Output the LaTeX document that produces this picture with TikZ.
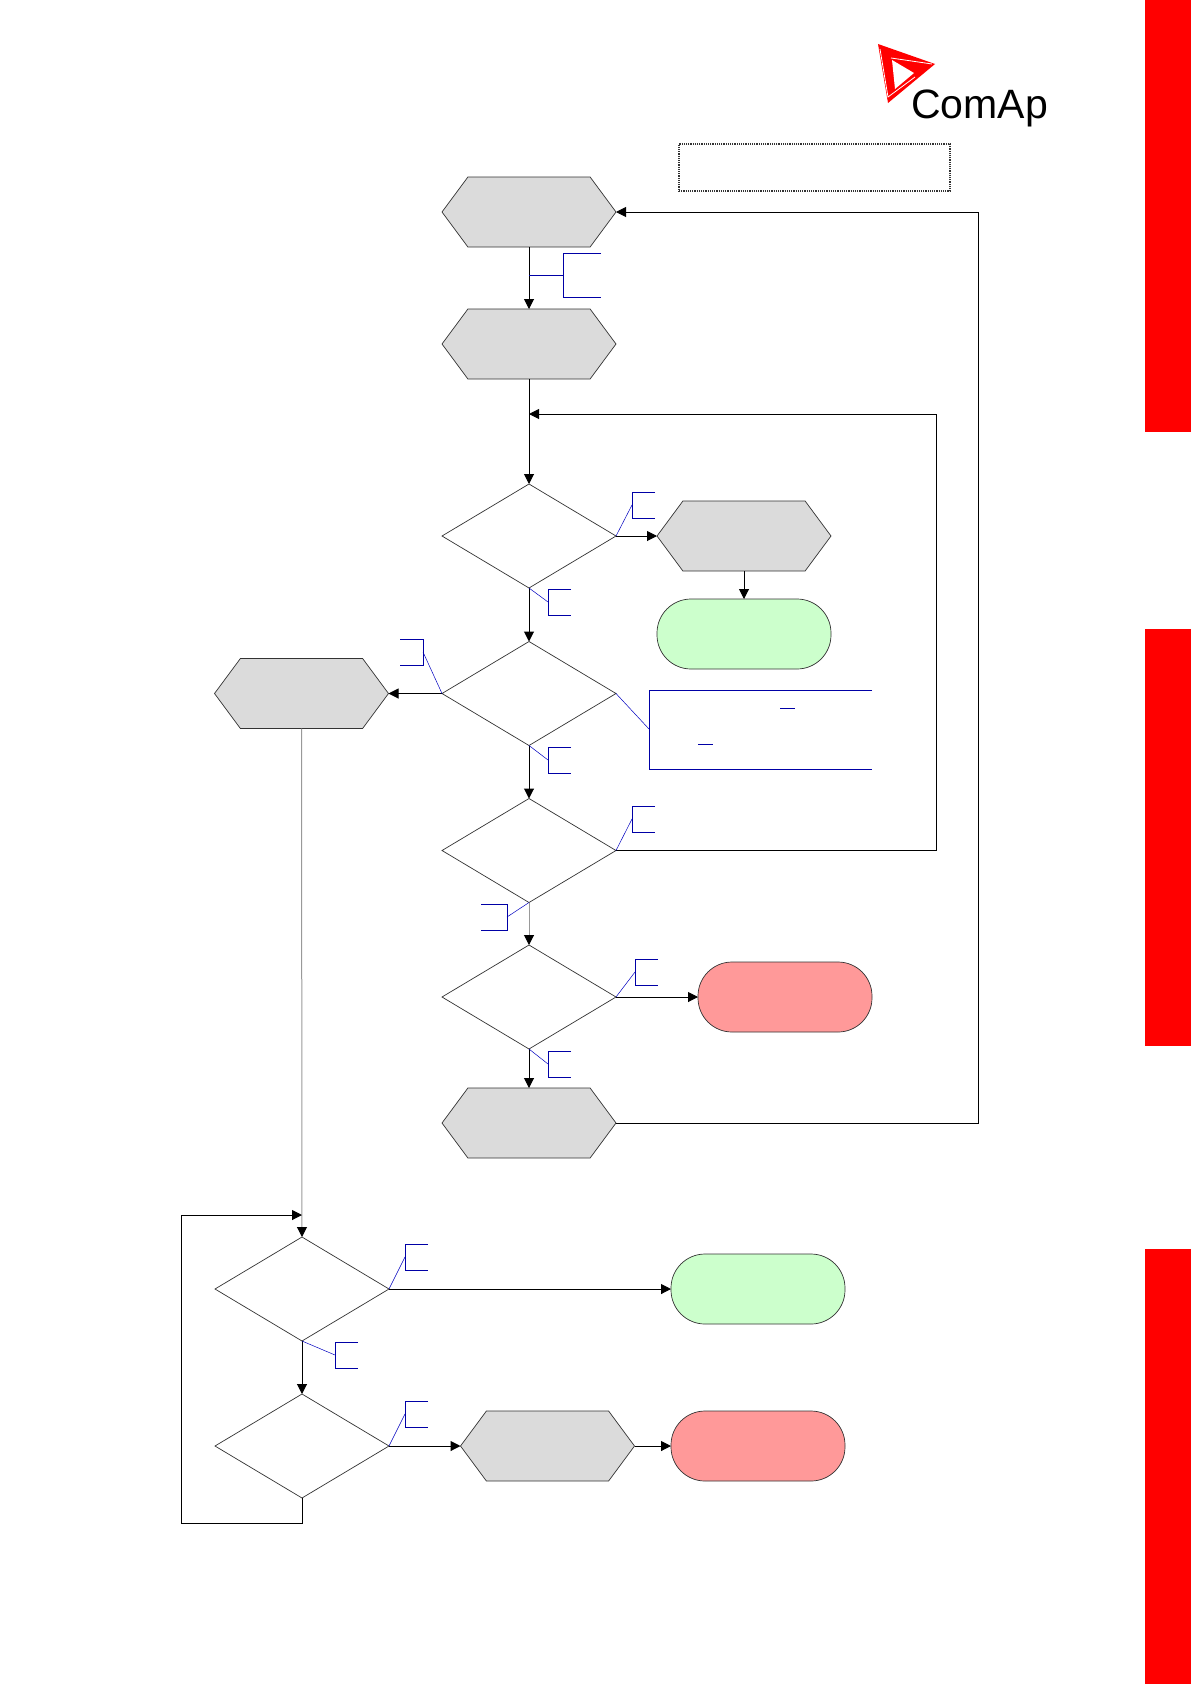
\documentclass[tikz,border=0pt]{standalone}
\usepackage{fontspec}
\newfontfamily\logofont{Liberation Sans}
\usetikzlibrary{arrows.meta,shapes.geometric,shapes.symbols}

\begin{document}
\begin{tikzpicture}[>={Triangle[length=10pt,width=10pt,color=black]},x=1pt,y=-1pt]
  \tikzset{
    flow/.style={->,line width=1pt,black},
    plain/.style={line width=1pt,black},
    fadedflow/.style={->,line width=1pt,gray!80},
    hexbox/.style={draw=black!80,fill=black!14,line width=.7pt,shape=signal,
      signal to=east and west,signal pointer angle=107,inner sep=0pt,outer sep=0pt,
      minimum width=174pt,minimum height=70pt},
    decision/.style={draw=black!80,fill=white,line width=.7pt,shape=diamond,aspect=1.67,
      inner sep=0pt,outer sep=0pt,minimum width=174pt,minimum height=104pt},
    terminal/.style={draw=black!80,line width=.7pt,rectangle,rounded corners=34pt,
      inner sep=0pt,outer sep=0pt,minimum width=174pt,minimum height=70pt},
    okbox/.style={terminal,fill=green!20},
    failbox/.style={terminal,fill=red!40},
    leader/.style={blue!75!black,line width=.5pt},
    bracket/.style={blue!65!black,line width=.8pt}
  }
  \useasboundingbox (0,0) rectangle (1191,1684);

  % side tabs
  \fill[red] (1145,0) rectangle (1191,432);
  \fill[red] (1145,629) rectangle (1191,1046);
  \fill[red] (1145,1249) rectangle (1191,1684);

  % logo
  \fill[red] (878,44) -- (935,64) -- (888,103) -- cycle;
  \fill[white] (892,60) -- (914,73) -- (895,89) -- cycle;
  \draw[white,line width=.8pt] (880,49) -- (888,97) -- (915,77);
  \draw[white,line width=.8pt] (891,58) -- (932,64);
  \node[font=\logofont\fontsize{41}{41}\selectfont,inner sep=0pt,anchor=base west] (logoText) at (911,118) {ComAp};

  \node[draw=black!80,densely dotted,line width=1.2pt,minimum width=271pt,minimum height=47pt] (noteBox) at (814.5,167.5) {};

  % main column
  \node[hexbox] (hexStart) at (529,212) {};
  \node[hexbox] (hexReady) at (529,344) {};
  \node[decision] (decFirst) at (529,536) {};
  \node[decision] (decSecond) at (529,693.5) {};
  \node[decision] (decThird) at (529,850.5) {};
  \node[decision] (decFourth) at (529,997) {};
  \node[hexbox] (hexReturn) at (529,1123) {};

  % right of the column
  \node[hexbox] (hexClose) at (744,536) {};
  \node[okbox] (okTop) at (744,634) {};
  \node[failbox] (failTop) at (785,997) {};

  % lower part
  \node[hexbox] (hexBranch) at (301.5,693.5) {};
  \node[decision] (decLower) at (302,1289) {};
  \node[decision] (decLast) at (302,1446) {};
  \node[okbox] (okLow) at (758,1289) {};
  \node[hexbox] (hexOpen) at (547.5,1446) {};
  \node[failbox] (failLow) at (758,1446) {};

  \coordinate (mergeTop) at (529,414);
  \coordinate (tapStart) at (529,275);
  \coordinate (mergeLow) at (302,1215);

  \draw[flow] (hexStart.south) -- (hexReady.north);
  \draw[flow] (hexReady.south) -- (decFirst.north);
  \draw[flow] (decFirst.south) -- (decSecond.north);
  \draw[flow] (decSecond.south) -- (decThird.north);
  \draw[fadedflow] (decThird.south) -- (decFourth.north);
  \draw[flow] (decFourth.south) -- (hexReturn.north);
  \draw[flow] (decFirst.east) -- (hexClose.west);
  \draw[flow] (hexClose.south) -- (okTop.north);
  \draw[flow] (decFourth.east) -- (failTop.west);
  \draw[flow] (decSecond.west) -- (hexBranch.east);
  \draw[fadedflow] (hexBranch.south) -- (decLower.north);
  \draw[flow] (decLower.south) -- (decLast.north);
  \draw[flow] (decLower.east) -- (okLow.west);
  \draw[flow] (decLast.east) -- (hexOpen.west);
  \draw[flow] (hexOpen.east) -- (failLow.west);

  % loops
  \draw[flow] (decThird.east) -| (936,414) -- (mergeTop);
  \draw[flow] (hexReturn.east) -| (978.5,212) -- (hexStart.east);
  \draw[flow] (decLast.south) |- (181.5,1523) -- (181.5,1215) -- (mergeLow);

  % blue marks
  \draw[bracket] (tapStart) -- (563,275);
  \draw[bracket] (601,253) -- (563,253) -- (563,297) -- (601,297);
  \foreach \from/\bx/\by/\ex in {decFirst.east/632/505/655,decFirst.south/548/602/571,
    decSecond.west/423/652/400,decSecond.south/548/760/571,decThird.east/632/819/655,
    decThird.south/507/917/481,decFourth.east/635/972/658,decFourth.south/548/1064/571,
    decLower.east/405/1257/428,decLower.south/335/1355/358,decLast.east/405/1414/428}
  {
    \draw[leader] (\from) -- (\bx,\by);
    \draw[bracket] (\ex,\by-13) -- (\bx,\by-13) -- (\bx,\by+13) -- (\ex,\by+13);
  }
  \draw[leader] (decSecond.east) -- (649,729);
  \draw[bracket] (872,690) -- (649,690) -- (649,769) -- (872,769);
  \draw[bracket] (780,708) -- (795,708);
  \draw[bracket] (698,744) -- (713,744);
\end{tikzpicture}
\end{document}
